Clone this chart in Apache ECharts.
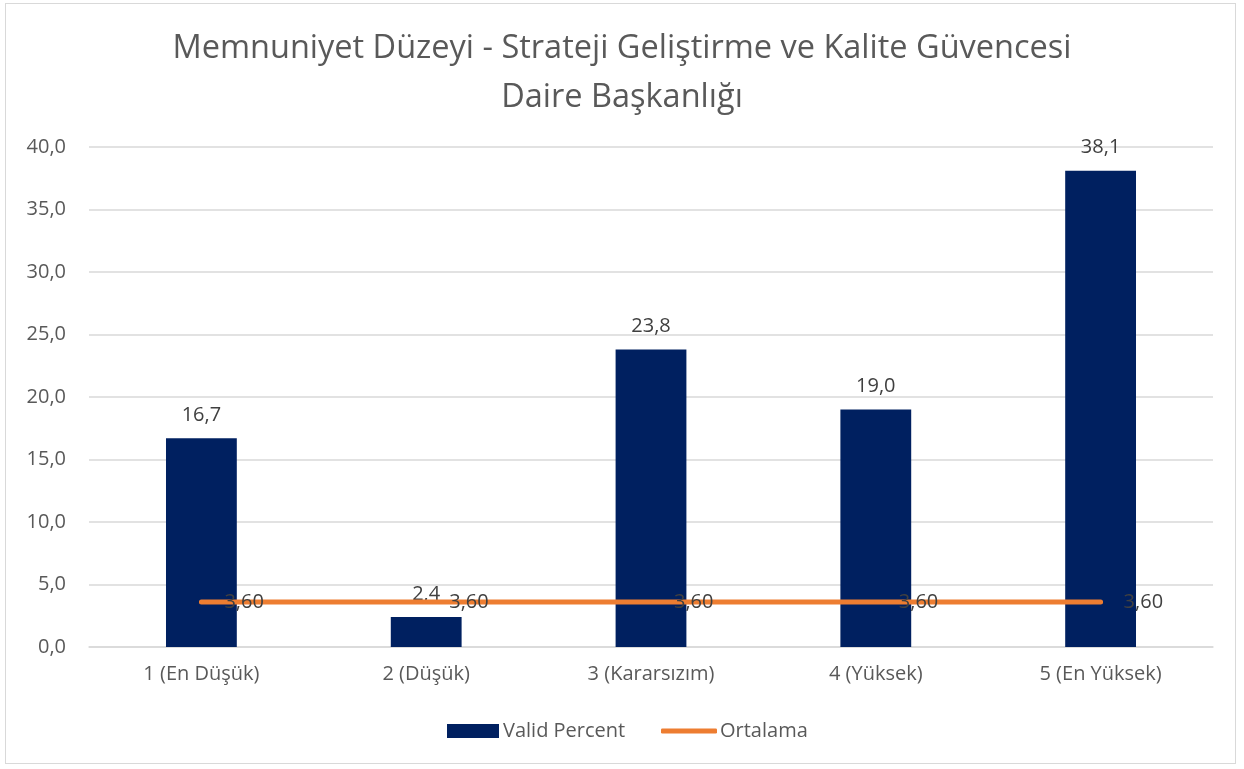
<!DOCTYPE html>
<html><head><meta charset="utf-8">
<script src="https://cdn.jsdelivr.net/npm/echarts@6/dist/echarts.min.js"></script>
<style>
html,body{margin:0;padding:0;background:#fff;}
#frame{position:absolute;left:5px;top:3px;width:1231px;height:761px;border:1px solid #d9d9d9;box-sizing:border-box;}
#c{position:absolute;left:0;top:0;width:1244px;height:769px;}
</style></head><body>
<div id="frame"></div>
<div id="c"></div>
<script>
const categories = ['1 (En Düşük)', '2 (Düşük)', '3 (Kararsızım)', '4 (Yüksek)', '5 (En Yüksek)'];
const validPercent = [16.7, 2.4, 23.8, 19.0, 38.1];
const ortalama = [3.60, 3.60, 3.60, 3.60, 3.60];
const titleText = 'Memnuniyet Düzeyi - Strateji Geliştirme ve Kalite Güvencesi\nDaire Başkanlığı';

const FONT = '"Open Sans", "Noto Sans", sans-serif';
const fmt1 = v => v.toFixed(1).replace('.', ',');
const fmt2 = v => v.toFixed(2).replace('.', ',');

const chart = echarts.init(document.getElementById('c'), null, {renderer: 'canvas'});
chart.setOption({
  animation: false,
  backgroundColor: 'transparent',
  title: {
    text: titleText,
    left: 'center',
    top: 19,
    textStyle: {fontFamily: FONT, fontSize: 32.5, fontWeight: 'normal', color: '#595959', lineHeight: 49}
  },
  legend: [
    {
      left: 442,
      top: 716,
      padding: 5,
      itemWidth: 52,
      itemHeight: 14,
      itemGap: 4,
      textStyle: {fontFamily: FONT, fontSize: 20, color: '#595959', padding: [0, 0, 0, -1]},
      data: [{name: 'Valid Percent', icon: 'rect', itemStyle: {color: '#002060'}}]
    },
    {
      left: 656,
      top: 716,
      padding: 5,
      itemWidth: 56,
      itemHeight: 5,
      textStyle: {fontFamily: FONT, fontSize: 20, color: '#595959', padding: [0, 0, 0, -2]},
      data: [{name: 'Ortalama', icon: 'roundRect', itemStyle: {color: '#ED7D31', opacity: 1}}]
    }
  ],
  grid: {left: 89, right: 31, top: 147, bottom: 122, containLabel: false},
  xAxis: {
    type: 'category',
    data: categories,
    axisLine: {show: true, lineStyle: {color: '#d9d9d9', width: 1.5}},
    axisTick: {show: false},
    axisLabel: {fontFamily: FONT, fontSize: 20, color: '#595959', margin: 17}
  },
  yAxis: {
    type: 'value',
    min: 0, max: 40, interval: 5,
    axisLine: {show: false},
    axisTick: {show: false},
    splitLine: {lineStyle: {color: '#d9d9d9', width: 1.5}},
    axisLabel: {fontFamily: FONT, fontSize: 20, color: '#595959', margin: 23, formatter: v => fmt1(v)}
  },
  series: [
    {
      name: 'Valid Percent',
      type: 'bar',
      data: validPercent,
      barWidth: '31.5%',
      itemStyle: {color: '#002060'},
      label: {show: true, position: 'top', distance: 13, fontFamily: FONT, fontSize: 20, color: '#404040', formatter: p => fmt1(p.value)}
    },
    {
      name: 'Ortalama',
      type: 'line',
      data: ortalama,
      symbol: 'circle',
      symbolSize: 2,
      showSymbol: true,
      lineStyle: {color: '#ED7D31', width: 5, cap: 'round'},
      itemStyle: {color: '#ED7D31'},
      label: {show: true, position: 'right', distance: 22, offset: [0, 2], fontFamily: FONT, fontSize: 20, color: '#404040', formatter: p => fmt2(p.value)},
      labelLayout: {hideOverlap: false},
      z: 3
    }
  ]
});
</script>
</body></html>
